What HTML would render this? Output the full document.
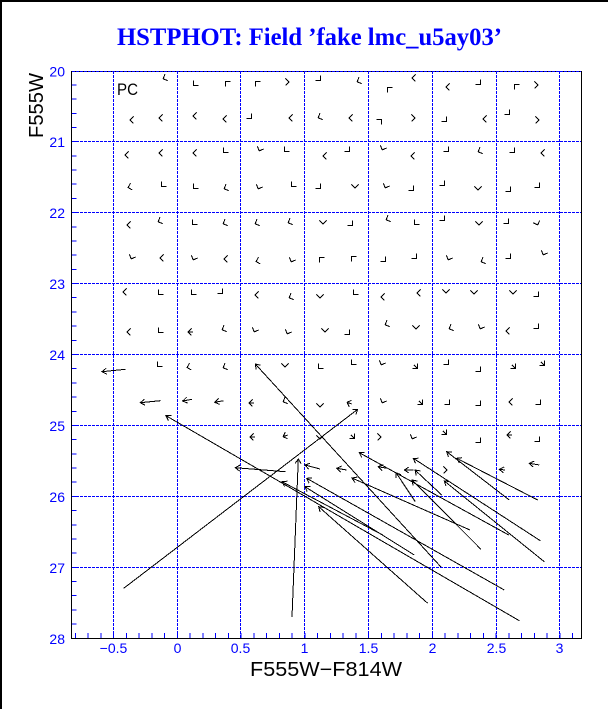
<!DOCTYPE html>
<html><head><meta charset="utf-8"><style>
html,body{margin:0;padding:0;background:#fff;}
svg{display:block;}
</style></head><body>
<svg width="612" height="709" viewBox="0 0 612 709" xmlns="http://www.w3.org/2000/svg">
<rect x="0" y="0" width="612" height="709" fill="#fff"/>
<rect x="0" y="0" width="608" height="2" fill="#000"/>
<rect x="0" y="0" width="2" height="709" fill="#000"/>

<text x="309.5" y="45" font-family="Liberation Serif, serif" font-weight="bold" font-size="25" fill="#0000ff" text-anchor="middle" textLength="385" lengthAdjust="spacingAndGlyphs">HSTPHOT: Field ’fake lmc_u5ay03’</text>

<!-- frame -->
<rect x="71.5" y="71.5" width="510" height="567" fill="none" stroke="#000" stroke-width="1" shape-rendering="crispEdges"/>

<!-- grid -->
<g stroke="#0000ff" stroke-width="1" stroke-dasharray="3,1" fill="none" shape-rendering="crispEdges">
<path d="M113.5 71V638M177.5 71V638M240.5 71V638M304.5 71V638M368.5 71V638M432.5 71V638M496.5 71V638M559.5 71V638"/>
<path d="M72 71.5H581M72 141.5H581M72 212.5H581M72 283.5H581M72 354.5H581M72 425.5H581M72 496.5H581M72 567.5H581"/>
</g>

<!-- ticks -->
<g stroke="#0000ff" stroke-width="1" fill="none" shape-rendering="crispEdges">
<path d="M75.5 638v-5M88 638v-5M101 638v-5M113.5 638v-5M126.5 638v-5M139 638v-5M152 638v-5M164.5 638v-5M177.5 638v-5M190 638v-5M203 638v-5M215.5 638v-5M228.5 638v-5M241 638v-5M254 638v-5M266.5 638v-5M279.5 638v-5M292 638v-5M305 638v-5M317.5 638v-5M330.5 638v-5M343 638v-5M356 638v-5M368.5 638v-5M381.5 638v-5M394 638v-5M407 638v-5M419.5 638v-5M432.5 638v-5M445 638v-5M458 638v-5M470.5 638v-5M483.5 638v-5M496 638v-5M509 638v-5M521.5 638v-5M534.5 638v-5M547 638v-5M560 638v-5M572.5 638v-5"/>
<path d="M72 85h4.5M72 99h4.5M72 113.5h4.5M72 127.5h4.5M72 141.5h4.5M72 156h4.5M72 170h4.5M72 184h4.5M72 198.5h4.5M72 212.5h4.5M72 227h4.5M72 241h4.5M72 255h4.5M72 269.5h4.5M72 283.5h4.5M72 297.5h4.5M72 312h4.5M72 326h4.5M72 340.5h4.5M72 354.5h4.5M72 368.5h4.5M72 383h4.5M72 397h4.5M72 411.5h4.5M72 425.5h4.5M72 439.5h4.5M72 454h4.5M72 468h4.5M72 482h4.5M72 496.5h4.5M72 510.5h4.5M72 525h4.5M72 539h4.5M72 553h4.5M72 567.5h4.5M72 581.5h4.5M72 595.5h4.5M72 610h4.5M72 624h4.5"/>
</g>

<!-- tick labels -->
<g font-family="Liberation Sans, sans-serif" font-size="14" fill="#0000ff" text-anchor="end">
<text x="65" y="76.5">20</text>
<text x="65" y="147">21</text>
<text x="65" y="218">22</text>
<text x="65" y="289">23</text>
<text x="65" y="360">24</text>
<text x="65" y="431">25</text>
<text x="65" y="502">26</text>
<text x="65" y="573">27</text>
<text x="65" y="644">28</text>
</g>
<g font-family="Liberation Sans, sans-serif" font-size="14" fill="#0000ff" text-anchor="middle">
<text x="113.5" y="653">−0.5</text>
<text x="177.5" y="653">0</text>
<text x="240.5" y="653">0.5</text>
<text x="304.5" y="653">1</text>
<text x="368.5" y="653">1.5</text>
<text x="432.5" y="653">2</text>
<text x="496.5" y="653">2.5</text>
<text x="559.5" y="653">3</text>
</g>

<!-- axis titles -->
<text x="326" y="676" font-family="Liberation Sans, sans-serif" font-size="20" fill="#000" text-anchor="middle" textLength="152" lengthAdjust="spacingAndGlyphs">F555W−F814W</text>
<text transform="translate(43,105.5) rotate(-90)" x="0" y="0" font-family="Liberation Sans, sans-serif" font-size="20" fill="#000" text-anchor="middle" textLength="65" lengthAdjust="spacingAndGlyphs">F555W</text>

<text x="117" y="95" font-family="Liberation Sans, sans-serif" font-size="17" fill="#000" textLength="21" lengthAdjust="spacingAndGlyphs">PC</text>

<!-- chevrons -->
<g stroke="#000" stroke-width="1" fill="none" shape-rendering="crispEdges">
<!-- Row A -->
<path transform="translate(165,78) rotate(157)" d="M-1.5-3.5L2 0L-1.5 3.5"/>
<path transform="translate(195,84) rotate(135)" d="M-1.5-3.5L2 0L-1.5 3.5"/>
<path transform="translate(227,83) rotate(225)" d="M-1.5-3.5L2 0L-1.5 3.5"/>
<path transform="translate(257,83) rotate(225)" d="M-1.5-3.5L2 0L-1.5 3.5"/>
<path transform="translate(287,82) rotate(0)" d="M-1.5-3.5L2 0L-1.5 3.5"/>
<path transform="translate(319,79) rotate(45)" d="M-1.5-3.5L2 0L-1.5 3.5"/>
<path transform="translate(359,81) rotate(157)" d="M-1.5-3.5L2 0L-1.5 3.5"/>
<path transform="translate(389,89) rotate(225)" d="M-1.5-3.5L2 0L-1.5 3.5"/>
<path transform="translate(414,78) rotate(180)" d="M-1.5-3.5L2 0L-1.5 3.5"/>
<path transform="translate(448,87) rotate(180)" d="M-1.5-3.5L2 0L-1.5 3.5"/>
<path transform="translate(479,83) rotate(45)" d="M-1.5-3.5L2 0L-1.5 3.5"/>
<path transform="translate(516,86) rotate(225)" d="M-1.5-3.5L2 0L-1.5 3.5"/>
<path transform="translate(536,85) rotate(0)" d="M-1.5-3.5L2 0L-1.5 3.5"/>
<!-- Row B -->
<path transform="translate(132,120) rotate(180)" d="M-1.5-3.5L2 0L-1.5 3.5"/>
<path transform="translate(161,118) rotate(180)" d="M-1.5-3.5L2 0L-1.5 3.5"/>
<path transform="translate(195,116) rotate(180)" d="M-1.5-3.5L2 0L-1.5 3.5"/>
<path transform="translate(225,119) rotate(180)" d="M-1.5-3.5L2 0L-1.5 3.5"/>
<path transform="translate(250,117) rotate(45)" d="M-1.5-3.5L2 0L-1.5 3.5"/>
<path transform="translate(291,118) rotate(180)" d="M-1.5-3.5L2 0L-1.5 3.5"/>
<path transform="translate(320,117) rotate(157)" d="M-1.5-3.5L2 0L-1.5 3.5"/>
<path transform="translate(351,118) rotate(180)" d="M-1.5-3.5L2 0L-1.5 3.5"/>
<path transform="translate(380,121) rotate(315)" d="M-1.5-3.5L2 0L-1.5 3.5"/>
<path transform="translate(413,118) rotate(0)" d="M-1.5-3.5L2 0L-1.5 3.5"/>
<path transform="translate(445,120) rotate(45)" d="M-1.5-3.5L2 0L-1.5 3.5"/>
<path transform="translate(485,119) rotate(180)" d="M-1.5-3.5L2 0L-1.5 3.5"/>
<path transform="translate(508,113) rotate(45)" d="M-1.5-3.5L2 0L-1.5 3.5"/>
<path transform="translate(537,120) rotate(0)" d="M-1.5-3.5L2 0L-1.5 3.5"/>
<!-- Row C -->
<path transform="translate(127,155) rotate(180)" d="M-1.5-3.5L2 0L-1.5 3.5"/>
<path transform="translate(161,153) rotate(180)" d="M-1.5-3.5L2 0L-1.5 3.5"/>
<path transform="translate(195,153) rotate(180)" d="M-1.5-3.5L2 0L-1.5 3.5"/>
<path transform="translate(225,151) rotate(135)" d="M-1.5-3.5L2 0L-1.5 3.5"/>
<path transform="translate(260,149) rotate(112)" d="M-1.5-3.5L2 0L-1.5 3.5"/>
<path transform="translate(286,150) rotate(135)" d="M-1.5-3.5L2 0L-1.5 3.5"/>
<path transform="translate(325,156) rotate(180)" d="M-1.5-3.5L2 0L-1.5 3.5"/>
<path transform="translate(348,150) rotate(45)" d="M-1.5-3.5L2 0L-1.5 3.5"/>
<path transform="translate(383,148) rotate(112)" d="M-1.5-3.5L2 0L-1.5 3.5"/>
<path transform="translate(413,156) rotate(180)" d="M-1.5-3.5L2 0L-1.5 3.5"/>
<path transform="translate(447,150) rotate(45)" d="M-1.5-3.5L2 0L-1.5 3.5"/>
<path transform="translate(480,151) rotate(157)" d="M-1.5-3.5L2 0L-1.5 3.5"/>
<path transform="translate(513,151) rotate(45)" d="M-1.5-3.5L2 0L-1.5 3.5"/>
<path transform="translate(543,153) rotate(180)" d="M-1.5-3.5L2 0L-1.5 3.5"/>
<!-- Row D -->
<path transform="translate(130,187) rotate(165)" d="M-1.5-3.5L2 0L-1.5 3.5"/>
<path transform="translate(163,185) rotate(135)" d="M-1.5-3.5L2 0L-1.5 3.5"/>
<path transform="translate(195,187) rotate(135)" d="M-1.5-3.5L2 0L-1.5 3.5"/>
<path transform="translate(226,188) rotate(157)" d="M-1.5-3.5L2 0L-1.5 3.5"/>
<path transform="translate(259,187) rotate(112)" d="M-1.5-3.5L2 0L-1.5 3.5"/>
<path transform="translate(293,185) rotate(135)" d="M-1.5-3.5L2 0L-1.5 3.5"/>
<path transform="translate(319,187) rotate(45)" d="M-1.5-3.5L2 0L-1.5 3.5"/>
<path transform="translate(355,186) rotate(90)" d="M-1.5-3.5L2 0L-1.5 3.5"/>
<path transform="translate(386,186) rotate(112)" d="M-1.5-3.5L2 0L-1.5 3.5"/>
<path transform="translate(412,189) rotate(45)" d="M-1.5-3.5L2 0L-1.5 3.5"/>
<path transform="translate(443,184) rotate(45)" d="M-1.5-3.5L2 0L-1.5 3.5"/>
<path transform="translate(478,188) rotate(90)" d="M-1.5-3.5L2 0L-1.5 3.5"/>
<path transform="translate(509,190) rotate(45)" d="M-1.5-3.5L2 0L-1.5 3.5"/>
<path transform="translate(538,186) rotate(45)" d="M-1.5-3.5L2 0L-1.5 3.5"/>
<!-- Row E -->
<path transform="translate(129,225) rotate(180)" d="M-1.5-3.5L2 0L-1.5 3.5"/>
<path transform="translate(160,221) rotate(157)" d="M-1.5-3.5L2 0L-1.5 3.5"/>
<path transform="translate(194,223) rotate(135)" d="M-1.5-3.5L2 0L-1.5 3.5"/>
<path transform="translate(225,223) rotate(157)" d="M-1.5-3.5L2 0L-1.5 3.5"/>
<path transform="translate(257,223) rotate(157)" d="M-1.5-3.5L2 0L-1.5 3.5"/>
<path transform="translate(290,222) rotate(157)" d="M-1.5-3.5L2 0L-1.5 3.5"/>
<path transform="translate(323,222) rotate(90)" d="M-1.5-3.5L2 0L-1.5 3.5"/>
<path transform="translate(351,224) rotate(45)" d="M-1.5-3.5L2 0L-1.5 3.5"/>
<path transform="translate(388,219) rotate(157)" d="M-1.5-3.5L2 0L-1.5 3.5"/>
<path transform="translate(416,223) rotate(135)" d="M-1.5-3.5L2 0L-1.5 3.5"/>
<path transform="translate(443,219) rotate(45)" d="M-1.5-3.5L2 0L-1.5 3.5"/>
<path transform="translate(479,223) rotate(90)" d="M-1.5-3.5L2 0L-1.5 3.5"/>
<path transform="translate(507,222) rotate(45)" d="M-1.5-3.5L2 0L-1.5 3.5"/>
<path transform="translate(537,223) rotate(70)" d="M-1.5-3.5L2 0L-1.5 3.5"/>
<!-- Row F -->
<path transform="translate(132,257) rotate(112)" d="M-1.5-3.5L2 0L-1.5 3.5"/>
<path transform="translate(162,258) rotate(180)" d="M-1.5-3.5L2 0L-1.5 3.5"/>
<path transform="translate(194,258) rotate(112)" d="M-1.5-3.5L2 0L-1.5 3.5"/>
<path transform="translate(226,259) rotate(180)" d="M-1.5-3.5L2 0L-1.5 3.5"/>
<path transform="translate(258,261) rotate(165)" d="M-1.5-3.5L2 0L-1.5 3.5"/>
<path transform="translate(292,260) rotate(112)" d="M-1.5-3.5L2 0L-1.5 3.5"/>
<path transform="translate(321,259) rotate(225)" d="M-1.5-3.5L2 0L-1.5 3.5"/>
<path transform="translate(353,258) rotate(225)" d="M-1.5-3.5L2 0L-1.5 3.5"/>
<path transform="translate(384,260) rotate(45)" d="M-1.5-3.5L2 0L-1.5 3.5"/>
<path transform="translate(415,257) rotate(45)" d="M-1.5-3.5L2 0L-1.5 3.5"/>
<path transform="translate(449,258) rotate(112)" d="M-1.5-3.5L2 0L-1.5 3.5"/>
<path transform="translate(483,261) rotate(157)" d="M-1.5-3.5L2 0L-1.5 3.5"/>
<path transform="translate(509,257) rotate(45)" d="M-1.5-3.5L2 0L-1.5 3.5"/>
<path transform="translate(544,253) rotate(112)" d="M-1.5-3.5L2 0L-1.5 3.5"/>
<!-- Row G -->
<path transform="translate(125,292) rotate(180)" d="M-1.5-3.5L2 0L-1.5 3.5"/>
<path transform="translate(160,293) rotate(135)" d="M-1.5-3.5L2 0L-1.5 3.5"/>
<path transform="translate(193,293) rotate(135)" d="M-1.5-3.5L2 0L-1.5 3.5"/>
<path transform="translate(221,292) rotate(45)" d="M-1.5-3.5L2 0L-1.5 3.5"/>
<path transform="translate(257,295) rotate(180)" d="M-1.5-3.5L2 0L-1.5 3.5"/>
<path transform="translate(291,297) rotate(157)" d="M-1.5-3.5L2 0L-1.5 3.5"/>
<path transform="translate(320,296) rotate(90)" d="M-1.5-3.5L2 0L-1.5 3.5"/>
<path transform="translate(355,293) rotate(135)" d="M-1.5-3.5L2 0L-1.5 3.5"/>
<path transform="translate(383,297) rotate(180)" d="M-1.5-3.5L2 0L-1.5 3.5"/>
<path transform="translate(419,293) rotate(180)" d="M-1.5-3.5L2 0L-1.5 3.5"/>
<path transform="translate(446,291) rotate(90)" d="M-1.5-3.5L2 0L-1.5 3.5"/>
<path transform="translate(474,292) rotate(90)" d="M-1.5-3.5L2 0L-1.5 3.5"/>
<path transform="translate(513,292) rotate(90)" d="M-1.5-3.5L2 0L-1.5 3.5"/>
<path transform="translate(537,295) rotate(45)" d="M-1.5-3.5L2 0L-1.5 3.5"/>
<!-- Row H -->
<path transform="translate(129,332) rotate(180)" d="M-1.5-3.5L2 0L-1.5 3.5"/>
<path transform="translate(160,331) rotate(135)" d="M-1.5-3.5L2 0L-1.5 3.5"/>
<path transform="translate(190,332) rotate(180)" d="M-1.5-3.5L2 0L-1.5 3.5M2 0L-3 0"/>
<path transform="translate(224,329) rotate(157)" d="M-1.5-3.5L2 0L-1.5 3.5"/>
<path transform="translate(255,330) rotate(112)" d="M-1.5-3.5L2 0L-1.5 3.5"/>
<path transform="translate(288,332) rotate(112)" d="M-1.5-3.5L2 0L-1.5 3.5"/>
<path transform="translate(325,330) rotate(90)" d="M-1.5-3.5L2 0L-1.5 3.5"/>
<path transform="translate(348,333) rotate(45)" d="M-1.5-3.5L2 0L-1.5 3.5"/>
<path transform="translate(387,324) rotate(157)" d="M-1.5-3.5L2 0L-1.5 3.5"/>
<path transform="translate(416,327) rotate(90)" d="M-1.5-3.5L2 0L-1.5 3.5"/>
<path transform="translate(451,328) rotate(157)" d="M-1.5-3.5L2 0L-1.5 3.5"/>
<path transform="translate(481,327) rotate(112)" d="M-1.5-3.5L2 0L-1.5 3.5"/>
<path transform="translate(508,331) rotate(180)" d="M-1.5-3.5L2 0L-1.5 3.5"/>
<path transform="translate(537,327) rotate(45)" d="M-1.5-3.5L2 0L-1.5 3.5"/>
<!-- Row I -->
<path transform="translate(159,365) rotate(135)" d="M-1.5-3.5L2 0L-1.5 3.5"/>
<path transform="translate(189,367) rotate(165)" d="M-1.5-3.5L2 0L-1.5 3.5"/>
<path transform="translate(225,367) rotate(157)" d="M-1.5-3.5L2 0L-1.5 3.5"/>
<path transform="translate(285,365) rotate(90)" d="M-1.5-3.5L2 0L-1.5 3.5"/>
<path transform="translate(320,367) rotate(135)" d="M-1.5-3.5L2 0L-1.5 3.5"/>
<path transform="translate(353,363) rotate(135)" d="M-1.5-3.5L2 0L-1.5 3.5"/>
<path transform="translate(382,363) rotate(112)" d="M-1.5-3.5L2 0L-1.5 3.5"/>
<path transform="translate(416,367) rotate(45)" d="M-1.5-3.5L2 0L-1.5 3.5M2 0L-3 0"/>
<path transform="translate(447,363) rotate(45)" d="M-1.5-3.5L2 0L-1.5 3.5"/>
<path transform="translate(479,370) rotate(45)" d="M-1.5-3.5L2 0L-1.5 3.5"/>
<path transform="translate(514,367) rotate(45)" d="M-1.5-3.5L2 0L-1.5 3.5M2 0L-3 0"/>
<path transform="translate(543,364) rotate(45)" d="M-1.5-3.5L2 0L-1.5 3.5M2 0L-3 0"/>
<!-- Row J -->
<path transform="translate(251,403) rotate(180)" d="M-1.5-3.5L2 0L-1.5 3.5M2 0L-3 0"/>
<path transform="translate(285,401) rotate(157)" d="M-1.5-3.5L2 0L-1.5 3.5"/>
<path transform="translate(320,405) rotate(90)" d="M-1.5-3.5L2 0L-1.5 3.5"/>
<path transform="translate(349,403) rotate(200)" d="M-1.5-3.5L2 0L-1.5 3.5M2 0L-3 0"/>
<path transform="translate(383,401) rotate(112)" d="M-1.5-3.5L2 0L-1.5 3.5"/>
<path transform="translate(421,403) rotate(45)" d="M-1.5-3.5L2 0L-1.5 3.5M2 0L-3 0"/>
<path transform="translate(448,403) rotate(45)" d="M-1.5-3.5L2 0L-1.5 3.5"/>
<path transform="translate(479,404) rotate(45)" d="M-1.5-3.5L2 0L-1.5 3.5"/>
<path transform="translate(511,402) rotate(180)" d="M-1.5-3.5L2 0L-1.5 3.5"/>
<path transform="translate(539,403) rotate(45)" d="M-1.5-3.5L2 0L-1.5 3.5"/>
<!-- Row K -->
<path transform="translate(252,437) rotate(180)" d="M-1.5-3.5L2 0L-1.5 3.5M2 0L-3 0"/>
<path transform="translate(285,436) rotate(160)" d="M-1.5-3.5L2 0L-1.5 3.5M2 0L-3 0"/>
<path transform="translate(320,437) rotate(90)" d="M-1.5-3.5L2 0L-1.5 3.5"/>
<path transform="translate(353,437) rotate(45)" d="M-1.5-3.5L2 0L-1.5 3.5M2 0L-3 0"/>
<path transform="translate(379,437) rotate(0)" d="M-1.5-3.5L2 0L-1.5 3.5"/>
<path transform="translate(413,437) rotate(112)" d="M-1.5-3.5L2 0L-1.5 3.5"/>
<path transform="translate(445,433) rotate(45)" d="M-1.5-3.5L2 0L-1.5 3.5M2 0L-3 0"/>
<path transform="translate(479,441) rotate(45)" d="M-1.5-3.5L2 0L-1.5 3.5"/>
<path transform="translate(509,435) rotate(180)" d="M-1.5-3.5L2 0L-1.5 3.5M2 0L-3 0"/>
<path transform="translate(538,440) rotate(45)" d="M-1.5-3.5L2 0L-1.5 3.5"/>
<!-- Row L -->
<path transform="translate(445,470) rotate(0)" d="M-1.5-3.5L2 0L-1.5 3.5"/>
</g>

<!-- long arrows: shafts -->
<g stroke="#000" stroke-width="1" fill="none" shape-rendering="crispEdges">
<path d="M441 567L255.3 364"/>
<path d="M519.3 620.7L166 415.7"/>
<path d="M123.7 588.3L357.7 409.3"/>
<path d="M292 617L298.3 459"/>
<path d="M285.3 471.7L235.3 467.7"/>
<path d="M320 469L305 465"/>
<path d="M346.7 470L336.7 468.3"/>
<path d="M386.7 468.3L378.3 466.7"/>
<path d="M413.3 470L404.3 470"/>
<path d="M441.7 495L415 470"/>
<path d="M415.3 501.7L396 472.7"/>
<path d="M509.3 500L446.7 451.7"/>
<path d="M537.7 500L456.7 458.3"/>
<path d="M508.7 535L359.3 452.7"/>
<path d="M540.3 540.7L413.3 458.3"/>
<path d="M544.3 561.7L444.3 481"/>
<path d="M481 549.3L412 480"/>
<path d="M382.7 535L282 481.7"/>
<path d="M427.7 603.3L318.7 506.7"/>
<path d="M504.3 590L306.7 478.3"/>
<path d="M414.3 555L305 486.7"/>
<path d="M470 530L352 478"/>
<path d="M539.3 465L529.3 463.3"/>
<path d="M505 470L499.3 469.3"/>
<path d="M125.3 369.3L102 371.7"/>
<path d="M160.3 400.7L140.3 402.7"/>
<path d="M192 399.3L182.7 401"/>
<path d="M223.7 400.7L214.7 402.3"/>
</g>

<!-- long arrows: heads -->
<g stroke="#000" stroke-width="1" fill="none" shape-rendering="crispEdges">
<path transform="translate(255.3,364) rotate(227.5)" d="M-4.5-3L0 0L-4.5 3"/>
<path transform="translate(166,415.7) rotate(210.1)" d="M-4.5-3L0 0L-4.5 3"/>
<path transform="translate(357.7,409.3) rotate(-37.4)" d="M-4.5-3L0 0L-4.5 3"/>
<path transform="translate(298.3,459) rotate(-87.7)" d="M-4.5-3L0 0L-4.5 3"/>
<path transform="translate(235.3,467.7) rotate(184.6)" d="M-4.5-3L0 0L-4.5 3"/>
<path transform="translate(305,465) rotate(194.9)" d="M-4.5-3L0 0L-4.5 3"/>
<path transform="translate(336.7,468.3) rotate(189.6)" d="M-4.5-3L0 0L-4.5 3"/>
<path transform="translate(378.3,466.7) rotate(190.8)" d="M-4.5-3L0 0L-4.5 3"/>
<path transform="translate(404.3,470) rotate(180)" d="M-4.5-3L0 0L-4.5 3"/>
<path transform="translate(415,470) rotate(223.1)" d="M-4.5-3L0 0L-4.5 3"/>
<path transform="translate(396,472.7) rotate(236.4)" d="M-4.5-3L0 0L-4.5 3"/>
<path transform="translate(446.7,451.7) rotate(217.7)" d="M-4.5-3L0 0L-4.5 3"/>
<path transform="translate(456.7,458.3) rotate(207.2)" d="M-4.5-3L0 0L-4.5 3"/>
<path transform="translate(359.3,452.7) rotate(208.9)" d="M-4.5-3L0 0L-4.5 3"/>
<path transform="translate(413.3,458.3) rotate(213)" d="M-4.5-3L0 0L-4.5 3"/>
<path transform="translate(444.3,481) rotate(218.9)" d="M-4.5-3L0 0L-4.5 3"/>
<path transform="translate(412,480) rotate(225.1)" d="M-4.5-3L0 0L-4.5 3"/>
<path transform="translate(282,481.7) rotate(207.9)" d="M-4.5-3L0 0L-4.5 3"/>
<path transform="translate(318.7,506.7) rotate(221.5)" d="M-4.5-3L0 0L-4.5 3"/>
<path transform="translate(306.7,478.3) rotate(209.5)" d="M-4.5-3L0 0L-4.5 3"/>
<path transform="translate(305,486.7) rotate(212)" d="M-4.5-3L0 0L-4.5 3"/>
<path transform="translate(352,478) rotate(203.8)" d="M-4.5-3L0 0L-4.5 3"/>
<path transform="translate(529.3,463.3) rotate(189.6)" d="M-4.5-3L0 0L-4.5 3"/>
<path transform="translate(499.3,469.3) rotate(187)" d="M-4.5-3L0 0L-4.5 3"/>
<path transform="translate(102,371.7) rotate(174.1)" d="M-4.5-3L0 0L-4.5 3"/>
<path transform="translate(140.3,402.7) rotate(174.3)" d="M-4.5-3L0 0L-4.5 3"/>
<path transform="translate(182.7,401) rotate(169.6)" d="M-4.5-3L0 0L-4.5 3"/>
<path transform="translate(214.7,402.3) rotate(170)" d="M-4.5-3L0 0L-4.5 3"/>
</g>
</svg>
</body></html>
